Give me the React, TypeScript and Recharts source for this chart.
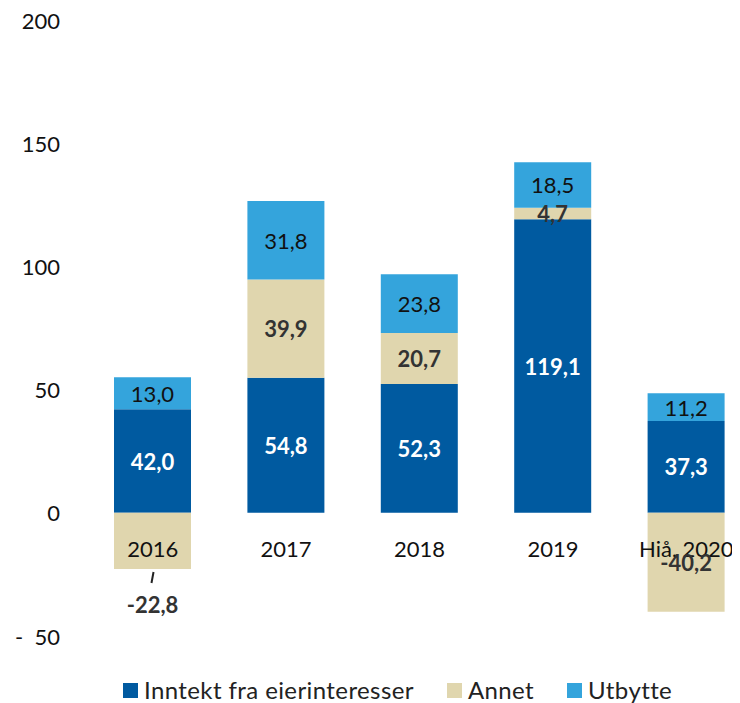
import React from 'react';
import { BarChart, Bar, XAxis, YAxis, LabelList, Legend, ReferenceDot } from 'recharts';

const years = ['2016', '2017', '2018', '2019', 'Hiå, 2020'];
const inntekt = [42.0, 54.8, 52.3, 119.1, 37.3];
const annet = [-22.8, 39.9, 20.7, 4.7, -40.2];
const utbytte = [13.0, 31.8, 23.8, 18.5, 11.2];
const yTicks = [-50, 0, 50, 100, 150, 200];

const series = [
  { key: 'inntekt', name: 'Inntekt fra eierinteresser', color: '#005AA0', text: '#ffffff', weight: 700 },
  { key: 'annet', name: 'Annet', color: '#E0D6AE', text: '#333333', weight: 700 },
  { key: 'utbytte', name: 'Utbytte', color: '#34A4DC', text: '#111111', weight: 400 },
];

const data = years.map((year, i) => ({
  year,
  inntekt: inntekt[i],
  annet: annet[i],
  utbytte: utbytte[i],
}));

const FONT = 'Lato, "Open Sans", sans-serif';

const fmt = (v: number) => v.toFixed(1).replace('.', ',');

const makeLabel = (color: string, weight: number) => (props: any) => {
  const { x, y, width, height, value } = props;
  const top = Math.min(y, y + height);
  const h = Math.abs(height);
  const cx = x + width / 2;
  // small negative values get pulled out below the bar with a leader
  if (value < 0 && h < 60) {
    const bottom = top + h;
    return (
      <g>
        <line x1={cx + 1} y1={bottom + 3} x2={cx - 1} y2={bottom + 14} stroke="#222" strokeWidth={2} />
        <text x={cx} y={bottom + 36} textAnchor="middle" dominantBaseline="central"
          fill={color} fontWeight={weight} fontSize={22} fontFamily={FONT}>
          {fmt(value)}
        </text>
      </g>
    );
  }
  return (
    <text x={cx} y={top + h / 2} textAnchor="middle" dominantBaseline="central"
      fill={color} fontWeight={weight} fontSize={22} fontFamily={FONT}>
      {fmt(value)}
    </text>
  );
};

const YTick = (props: any) => {
  const { x, y, payload } = props;
  const v = payload.value;
  const label = v < 0 ? `-  ${Math.abs(v)}` : `${v}`;
  return (
    <text x={x} y={y} textAnchor="end" dominantBaseline="central" fill="#111"
      fontSize={22} fontFamily={FONT} style={{ whiteSpace: 'pre' }}>
      {label}
    </text>
  );
};

const LegendContent = () => (
  <div style={{ display: 'flex', alignItems: 'center', fontFamily: FONT, fontSize: 24, letterSpacing: 0.4, color: '#222', lineHeight: '28px' }}>
    {series.map((s) => (
      <div key={s.key} style={{ display: 'flex', alignItems: 'center', marginRight: 33 }}>
        <span style={{ display: 'inline-block', width: 15, height: 15, background: s.color, marginRight: 6 }} />
        <span>{s.name}</span>
      </div>
    ))}
  </div>
);

export default function App() {
  return (
    <BarChart
      width={732}
      height={695}
      data={data}
      stackOffset="sign"
      margin={{ top: 12, right: 0, left: 0, bottom: 67 }}
    >
      <XAxis dataKey="year" hide padding={{ left: 0, right: -13 }} />
      <YAxis
        domain={[-50, 200]}
        ticks={yTicks}
        width={78}
        axisLine={false}
        tickLine={false}
        tickSize={0}
        tickMargin={26}
        tick={<YTick />}
      />
      {series.map((s) => (
        <Bar key={s.key} dataKey={s.key} name={s.name} stackId="a" fill={s.color} barSize={77} isAnimationActive={false}>
          <LabelList dataKey={s.key} content={makeLabel(s.text, s.weight)} />
        </Bar>
      ))}
      {years.map((year) => (
        <ReferenceDot
          key={year}
          x={year}
          y={0}
          r={0}
          shape={(p: any) => (
            <text x={p.cx} y={p.cy + 36} textAnchor="middle" dominantBaseline="central"
              fill="#111" fontSize={22} fontFamily={FONT}>
              {year}
            </text>
          )}
        />
      ))}
      <Legend
        layout="horizontal"
        verticalAlign="middle"
        align="center"
        content={<LegendContent />}
        wrapperStyle={{ top: 668, left: 115, width: 620 }}
      />
    </BarChart>
  );
}
